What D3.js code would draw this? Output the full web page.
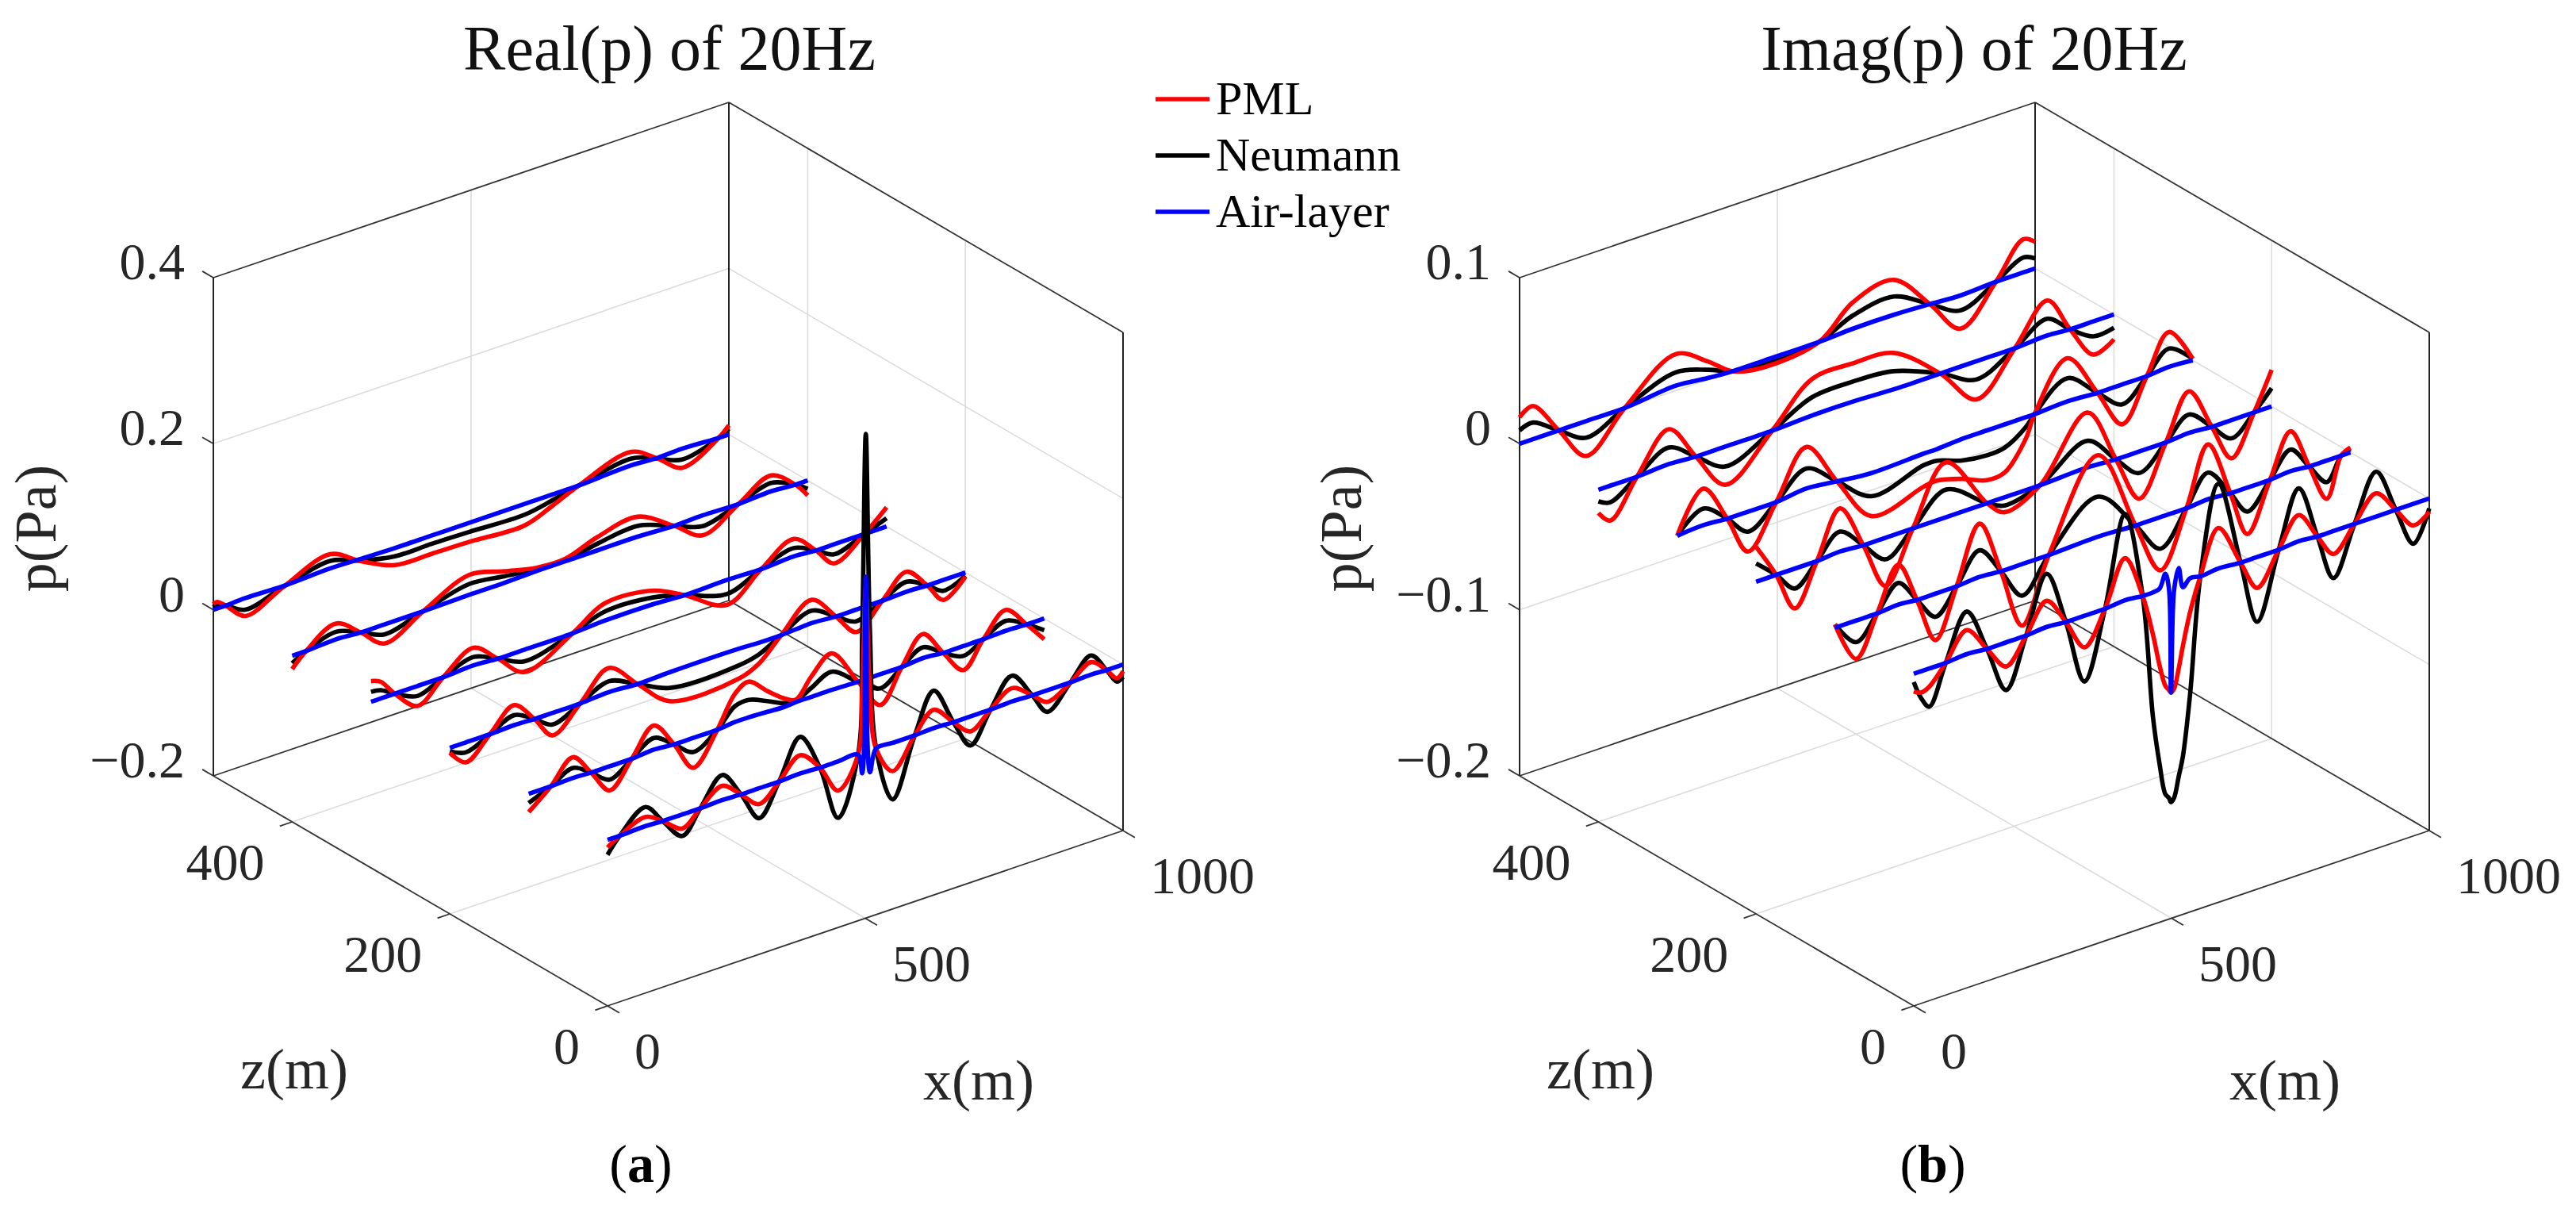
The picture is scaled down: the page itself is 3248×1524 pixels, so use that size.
<!DOCTYPE html>
<html>
<head>
<meta charset="utf-8">
<style>
body { margin: 0; background: #fff; }
text { font-family: "Liberation Serif", serif; }
</style>
<script src="https://d3js.org/d3.v7.min.js"></script>
</head>
<body>
<script>
var width = 3248;
var height = 1524;

// z position of each of the six traces, back to front
var zLines = [500, 400, 300, 200, 100, 0];

// x knots (m) and pressure (Pa) per trace, Real(p)
var realX = [
    [0,7,24,62,136,227,285,352,423,497,603,658,709,811,862,909,980,1000],
    [0,27,85,133,179,254,344,411,474,530,592,670,741,796,866,929,976,1000],
    [0,19,46,90,140,199,246,297,391,454,549,608,690,757,820,863,898,957,1000],
    [0,31,78,125,164,199,253,309,364,427,561,600,643,702,749,788,839,886,926,957,1000],
    [0,43,86,121,157,200,243,282,319,366,400,427,463,494,518,549,588,639,682,724,765,804,843,882,926,966,1000],
    [0,24,74,107,145,180,223,259,294,333,374,412,447,486,494,501,509,521,553,596,633,671,704,743,785,824,853,898,938,968,988,1000]
];
var realPml = [
    [.007,.008,0,-.0205,-.001,.019,-.0015,-.0205,-.022,-.023,-.026,-.0135,0,.019,0,-.021,0,.011],
    [-.016,0,.021,0,-.023,0,.025,.015,.006,.005,.018,.026,0,-.023,0,.021,0,-.018],
    [.025,.020,0,-.024,0,.023,0,-.027,0,.023,.018,0,-.029,0,.023,0,-.023,0,.023],
    [-.006,-.024,0,.025,0,-.027,0,.031,0,-.034,-.035,-.025,0,.030,0,-.027,0,.025,0,-.024,-.005],
    [-.022,0,.026,0,-.029,0,.031,0,-.036,0,.036,.045,.026,.011,.004,.026,.045,0,-.037,0,.031,0,-.029,0,.026,0,-.025],
    [-.009,0,.012,0,-.017,0,.018,0,-.019,0,.023,0,-.035,0,.073,.198,.073,0,-.034,0,.023,0,-.018,0,.017,0,-.014,0,.016,0,-.014,-.008]
];
var realNeumann = [
    [.003,.004,0,-.013,-.001,.011,-.001,-.010,-.010,-.011,-.013,-.007,0,.011,0,-.011,0,.007],
    [-.009,0,.011,0,-.012,0,.014,.009,.004,.003,.010,.015,0,-.012,0,.012,0,-.010],
    [.012,.010,0,-.012,0,.012,0,-.014,0,.013,.010,0,-.016,0,.012,0,-.012,0,.010],
    [-.004,-.012,0,.013,0,-.014,0,.015,0,-.018,-.019,-.014,0,.017,0,-.014,0,.013,0,-.013,-.004],
    [-.011,0,.013,0,-.016,0,.016,0,-.017,0,.021,.023,.014,.005,.003,.012,.023,0,-.017,0,.015,0,-.012,0,.013,0,-.014],
    [-.018,0,.024,0,-.026,0,.031,0,-.036,0,.045,0,-.068,0,.146,.383,.146,0,-.068,0,.046,0,-.035,0,.032,0,-.026,0,.024,0,-.018,-.015]
];
var realAir = [
    [0,0,0,.001,0,.002,.001,0,0,0,0,0,0,.003,.001,.002,0,0],
    [0,0,.002,0,0,0,.001,.001,.002,.002,.002,.002,0,.001,0,.002,0,0],
    [0,0,0,0,0,.002,0,0,0,.002,.002,0,.001,0,.002,0,0,0,0],
    [0,0,0,.001,0,0,0,.002,0,.001,.001,0,0,.002,0,0,0,.001,0,0,0],
    [0,0,.001,0,0,0,.002,0,0,0,.002,.002,.001,0,.001,.001,.001,0,0,0,.002,0,0,0,.001,0,0],
    [0,0,.001,0,0,0,.001,0,0,0,.001,0,0,0,-.024,.211,-.026,0,0,0,.001,0,0,0,.001,0,0,0,.001,0,0,0]
];

// same for Imag(p)
var imagX = [
    [0,26,76,129,204,303,365,413,474,581,647,726,796,855,924,977,1000],
    [0,23,75,137,189,246,337,415,494,572,663,733,808,871,915,960,1000],
    [0,51,97,137,192,251,310,377,477,504,552,601,635,676,693,757,815,863,911,954,1000],
    [0,39,75,118,163,208,251,304,369,448,482,551,643,698,743,795,840,884,922,966,1000],
    [0,41,82,123,159,195,236,281,322,363,415,511,583,631,682,724,767,800,844,884,920,954,982,1000],
    [0,14,30,62,103,142,179,218,258,295,331,371,410,444,464,477,488,495,499,505,514,522,536,556,591,634,666,708,747,783,814,855,897,935,969,1000]
];
var imagPml = [
    [.016,.020,0,-.021,0,.022,.011,0,-.004,0,.017,.022,0,-.021,0,.020,.016],
    [-.014,-.021,0,.022,0,-.023,0,.023,.024,.022,0,-.023,0,.022,0,-.020,-.015],
    [0,.023,0,-.024,0,.027,0,-.028,-.021,-.020,-.024,-.030,-.029,-.013,0,.027,0,-.024,0,.022,.001],
    [.021,0,-.024,0,.027,0,-.029,0,.033,0,-.009,0,.034,0,-.0285,0,.026,0,-.023,0,.022],
    [.002,-.023,0,.025,0,-.028,0,.033,0,-.037,0,.050,0,-.032,0,.034,0,-.028,0,.025,0,-.023,0,.003],
    [-.0106,-.0128,-.011,0,.0154,0,-.0145,0,.0167,0,-.019,0,.0263,0,-.0254,-.0456,-.0587,-.062,-.064,-.0623,-.051,-.0384,-.0195,0,.0254,0,-.0186,0,.0167,0,-.0138,0,.014,0,-.013,-.008]
];
var imagNeumann = [
    [.008,.010,0,-.010,0,.011,.006,0,-.002,0,.009,.012,0,-.010,0,.009,.006],
    [-.007,-.010,0,.011,0,-.012,0,.012,.013,.011,0,-.011,0,.011,0,-.009,-.008],
    [0,.011,0,-.012,0,.014,0,-.016,-.008,-.008,-.013,-.015,-.014,-.006,0,.015,0,-.012,0,.012,.001],
    [.011,0,-.012,0,.013,0,-.013,0,.0166,0,-.005,0,.017,0,-.013,0,.012,0,-.011,0,.011],
    [.002,-.013,0,.014,0,-.014,0,.017,0,-.019,0,.025,0,-.019,0,.017,0,-.0145,0,.014,0,-.013,0,.002],
    [-.005,-.016,-.023,0,.0266,0,-.0287,0,.033,0,-.0396,0,.053,0,-.075,-.105,-.124,-.127,-.13,-.128,-.116,-.105,-.069,0,.052,0,-.039,0,.0328,0,-.0283,0,.027,0,-.024,-.006]
];
var imagAir = [
    [0,0,0,0,0,.003,.001,0,0,0,.001,.001,0,-.001,0,0,0],
    [0,0,0,.001,0,0,0,.001,.001,0,0,0,0,.001,0,0,0],
    [0,.001,0,0,0,.002,0,-.002,-.001,-.001,0,0,0,0,0,.001,0,0,0,.001,0],
    [0,0,0,0,.001,0,0,0,0,0,0,0,.001,0,0,0,.001,0,0,0,0],
    [0,0,0,.001,0,0,0,.001,0,0,0,.001,0,0,0,.001,0,0,0,.001,0,0,0,0],
    [0,0,0,0,.001,0,0,0,.001,0,0,0,.001,0,0,.001,.0087,-.001,-.064,-.003,.0094,-.003,.001,0,.001,0,0,0,.001,0,0,0,0,0,0,0]
];

var xTicks = [0, 500, 1000];
var zTicks = [0, 200, 400];
var realPTicks = [-0.2, 0, 0.2, 0.4];
var imagPTicks = [-0.2, -0.1, 0, 0.1];
var legendNames = ["PML", "Neumann", "Air-layer"];
var legendColours = ["#ff0000", "#000000", "#0000ff"];

// axes of the oblique view, screen offset per data unit
var xToLeft = d3.scaleLinear().domain([0, 1000]).range([0, 650]);
var xToTop = d3.scaleLinear().domain([0, 1000]).range([0, -221]);
var zToLeft = d3.scaleLinear().domain([0, 500]).range([0, -497]);
var zToTop = d3.scaleLinear().domain([0, 500]).range([0, -290]);

var svg = d3.select("body")
    .append("svg")
    .attr("width", width)
    .attr("height", height)
    .style("display", "block");

function fmt(v) {
    return String(v).replace("-", "\u2212");
}

function drawPanel(opts) {
    var g = svg.append("g");
    var pToTop = d3.scaleLinear().domain(opts.pDomain).range([0, -628]);
    var x0 = opts.frontX, y0 = 1268;

    function sx(x, z) { return x0 + xToLeft(x) + zToLeft(z); }
    function sy(x, z, p) { return y0 + xToTop(x) + zToTop(z) + pToTop(p); }

    function seg(cls, a, b, colour, w) {
        g.append("line").attr("class", cls)
            .attr("x1", sx(a[0], a[1])).attr("y1", sy(a[0], a[1], a[2]))
            .attr("x2", sx(b[0], b[1])).attr("y2", sy(b[0], b[1], b[2]))
            .attr("stroke", colour).attr("stroke-width", w);
    }

    var pLo = opts.pDomain[0], pHi = opts.pDomain[1];
    var grid = "#dcdcdc", dark = "#333333";

    // grid on the two walls and the floor
    opts.pTicks.forEach( (p) => {
        if (p === pLo || p === pHi) return;
        seg("grid", [0, 500, p], [1000, 500, p], grid, 1.6);
        seg("grid", [1000, 500, p], [1000, 0, p], grid, 1.6);
    });
    seg("grid", [500, 500, pLo], [500, 500, pHi], grid, 1.6);
    seg("grid", [500, 0, pLo], [500, 500, pLo], grid, 1.6);
    zTicks.filter( (z) => z > 0 ).forEach( (z) => {
        seg("grid", [1000, z, pLo], [1000, z, pHi], grid, 1.6);
        seg("grid", [0, z, pLo], [1000, z, pLo], grid, 1.6);
    });

    // box edges
    seg("box", [0, 0, pLo], [1000, 0, pLo], dark, 1.8);
    seg("box", [0, 0, pLo], [0, 500, pLo], dark, 1.8);
    seg("box", [0, 500, pLo], [1000, 500, pLo], dark, 1.8);
    seg("box", [1000, 0, pLo], [1000, 500, pLo], dark, 1.8);
    seg("box", [0, 500, pHi], [1000, 500, pHi], dark, 1.8);
    seg("box", [1000, 0, pHi], [1000, 500, pHi], dark, 1.8);
    seg("box", [0, 500, pLo], [0, 500, pHi], "#222", 2);
    seg("box", [1000, 500, pLo], [1000, 500, pHi], "#222", 2);
    seg("box", [1000, 0, pLo], [1000, 0, pHi], "#222", 2);

    // ticks
    opts.pTicks.forEach( (p) => seg("tick", [0, 500, p], [0, 514, p], dark, 1.8) );
    xTicks.forEach( (x) => seg("tick", [x, 0, pLo], [x, -15, pLo], dark, 1.8) );
    zTicks.forEach( (z) => seg("tick", [0, z, pLo], [-24, z, pLo], dark, 1.8) );

    // traces
    var line = d3.line()
        .x( (d) => sx(d.x, d.z) )
        .y( (d) => sy(d.x, d.z, d.p) )
        .curve(d3.curveCatmullRom.alpha(0.5));

    zLines.forEach( (z, i) => {
        [[opts.neumann, "#000000"], [opts.pml, "#ff0000"], [opts.air, "#0000ff"]].forEach( (s) => {
            var pts = opts.xs[i].map( (x, j) => ({ x: x, z: z, p: s[0][i][j] }) );
            g.append("path")
                .datum(pts)
                .attr("fill", "none")
                .attr("stroke", s[1])
                .attr("stroke-width", 5.6)
                .attr("stroke-linejoin", "round")
                .attr("d", line);
        });
    });

    // tick labels
    var labelColour = "#262626";
    g.selectAll("text.p").data(opts.pTicks).enter().append("text")
        .attr("class", "p")
        .attr("x", sx(0, 500) - 36)
        .attr("y", (d) => sy(0, 500, d) + 2)
        .attr("text-anchor", "end")
        .attr("font-size", 66)
        .attr("fill", labelColour)
        .text(fmt);
    g.selectAll("text.z").data(zTicks).enter().append("text")
        .attr("class", "z")
        .attr("x", (d) => sx(0, d) - 35)
        .attr("y", (d) => sy(0, d, pLo) + 73)
        .attr("text-anchor", "end")
        .attr("font-size", 66)
        .attr("fill", labelColour)
        .text(fmt);
    g.selectAll("text.x").data(xTicks).enter().append("text")
        .attr("class", "x")
        .attr("x", (d) => sx(d, 0) + 34)
        .attr("y", (d) => sy(d, 0, pLo) + 79)
        .attr("font-size", 66)
        .attr("fill", labelColour)
        .text(fmt);

    // axis names and title
    function label(s, x, y, size, rot) {
        var t = g.append("text")
            .attr("text-anchor", "middle")
            .attr("font-size", size)
            .attr("fill", labelColour)
            .attr("x", x).attr("y", y)
            .text(s);
        if (rot) t.attr("transform", `rotate(-90 ${x} ${y})`);
        return t;
    }
    label(opts.title, opts.titleX, 88, 80).attr("fill", "#111");
    label("z(m)", x0 - 395, 1372, 72);
    label("x(m)", x0 + 468, 1386, 72);
    label("p(Pa)", opts.pLabelX, 666, 74, true);

    var cap = g.append("text")
        .attr("text-anchor", "middle")
        .attr("x", opts.capX).attr("y", 1490)
        .attr("font-size", 68)
        .attr("fill", "#000");
    cap.append("tspan").text("(");
    cap.append("tspan").attr("font-weight", "bold").text(opts.cap);
    cap.append("tspan").text(")");
}

drawPanel({
    title: "Real(p) of 20Hz", titleX: 844, frontX: 766, pLabelX: 70, capX: 808, cap: "a",
    pDomain: [-0.2, 0.4], pTicks: realPTicks,
    xs: realX, pml: realPml, neumann: realNeumann, air: realAir
});

drawPanel({
    title: "Imag(p) of 20Hz", titleX: 2489, frontX: 2413, pLabelX: 1716, capX: 2437, cap: "b",
    pDomain: [-0.2, 0.1], pTicks: imagPTicks,
    xs: imagX, pml: imagPml, neumann: imagNeumann, air: imagAir
});

// legend between the panels
var legend = svg.append("g").selectAll("g")
    .data(legendNames)
    .enter().append("g");
legend.append("line")
    .attr("x1", 1457).attr("x2", 1525)
    .attr("y1", (d, i) => 125 + i * 71)
    .attr("y2", (d, i) => 125 + i * 71)
    .attr("stroke", (d, i) => legendColours[i])
    .attr("stroke-width", 5.6);
legend.append("text")
    .attr("x", 1533)
    .attr("y", (d, i) => 144 + i * 71)
    .attr("font-size", 60)
    .attr("fill", "#000")
    .text( (d) => d );
</script>
</body>
</html>
